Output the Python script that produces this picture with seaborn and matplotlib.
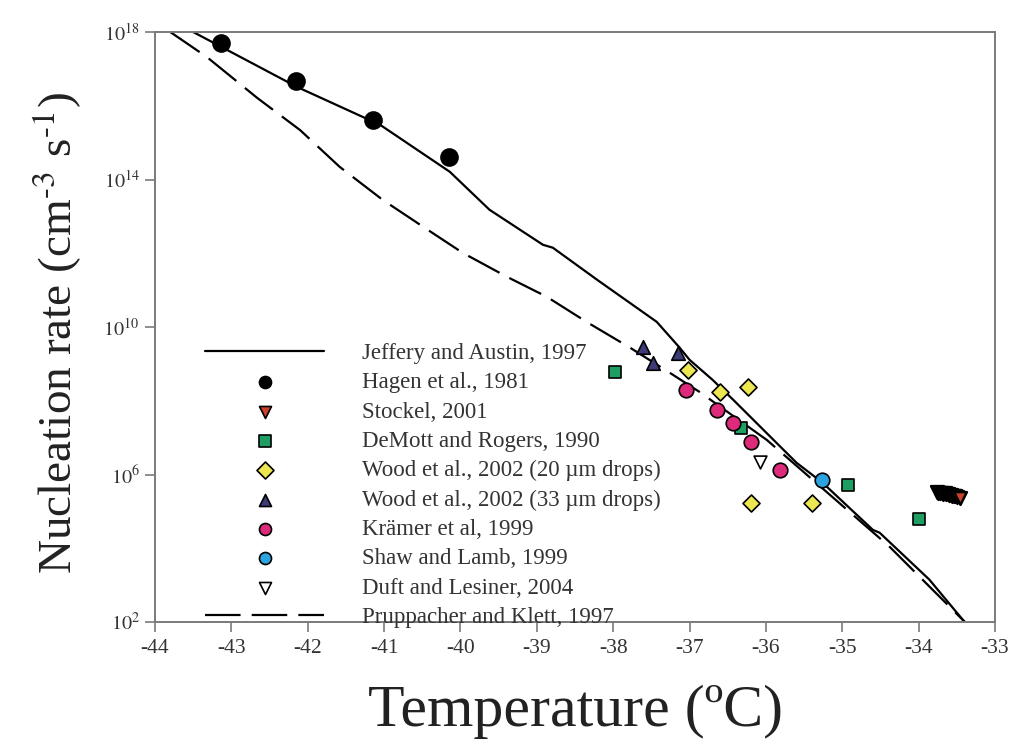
import numpy as np
import pandas as pd
import matplotlib
matplotlib.use("Agg")
import matplotlib.pyplot as plt
from matplotlib.ticker import NullLocator, FixedLocator
import seaborn as sns

# ---- Curves (temperature in degC, log10 of nucleation rate in cm^-3 s^-1) ----
jeffery_T = [-43.50, -42.14, -41.05, -40.14, -39.62, -38.92, -38.79, -38.21,
             -37.43, -37.13, -37.00, -36.70, -36.43, -35.60, -35.26, -34.60,
             -34.51, -33.86, -33.37]
jeffery_logJ = [18.00, 16.51, 15.48, 14.21, 13.18, 12.23, 12.15, 11.28,
                10.14, 9.44, 9.11, 8.57, 8.03, 6.32, 5.78, 4.50,
                4.42, 3.15, 1.93]

pruppacher_T = [-43.80, -43.32, -42.66, -42.10, -41.58, -41.02, -40.49, -39.97,
                -39.39, -38.87, -38.35, -37.78, -37.26, -36.87, -35.99, -35.69,
                -34.38, -33.36]
pruppacher_logJ = [18.00, 17.32, 16.21, 15.34, 14.34, 13.45, 12.72, 12.01,
                   11.36, 10.82, 10.14, 9.44, 8.76, 8.24, 6.94, 6.40,
                   4.04, 1.93]

# ---- Measurements ----
hagen_T = [-43.14, -42.15, -41.15, -40.15]
hagen_logJ = [17.70, 16.67, 15.62, 14.61]

stockel_T = [-33.76, -33.74, -33.72, -33.70, -33.68, -33.66, -33.64, -33.62,
             -33.60, -33.58, -33.56, -33.54, -33.52, -33.50, -33.46]
stockel_logJ = [5.52, 5.50, 5.51, 5.49, 5.48, 5.49, 5.47, 5.46,
                5.45, 5.44, 5.43, 5.42, 5.41, 5.40, 5.37]

demott_T = [-37.98, -36.32, -34.93, -33.99]
demott_logJ = [8.79, 7.27, 5.72, 4.78]

wood20_T = [-37.02, -36.60, -36.24, -36.19, -35.39]
wood20_logJ = [8.84, 8.24, 8.38, 5.24, 5.24]

wood33_T = [-37.61, -37.48, -37.15]
wood33_logJ = [9.46, 9.03, 9.30]

kramer_T = [-37.04, -36.64, -36.43, -36.19, -35.82]
kramer_logJ = [8.30, 7.76, 7.40, 6.89, 6.13]

shaw_T = [-35.27]
shaw_logJ = [5.86]

duft_T = [-36.08]
duft_logJ = [6.35]

x_ticks = list(range(-44, -32))
y_tick_exponents = [2, 6, 10, 14, 18]

sns.set_style("ticks")
plt.rcParams["font.family"] = ["Liberation Serif", "DejaVu Serif"]
plt.rcParams["mathtext.fontset"] = "stix"
plt.rcParams["axes.unicode_minus"] = False

W, H = 1013, 754
fig = plt.figure(figsize=(W / 100, H / 100), dpi=100)
ax = fig.add_axes([155 / W, 1 - 622 / H, (995 - 155) / W, (622 - 32) / H])


def frame(T, logJ):
    return pd.DataFrame({"T": T, "J": np.power(10.0, logJ)})


# model curves
sns.lineplot(data=frame(jeffery_T, jeffery_logJ), x="T", y="J", ax=ax,
             sort=False, estimator=None, color="black", lw=1.6,
             label="Jeffery and Austin, 1997", zorder=2)

edge = dict(edgecolor="black", linewidth=1.2, zorder=4)
sns.scatterplot(data=frame(hagen_T, hagen_logJ), x="T", y="J", ax=ax,
                marker="o", s=150, color="black", label="Hagen et al., 1981", **edge)
sns.scatterplot(data=frame(stockel_T, stockel_logJ), x="T", y="J", ax=ax,
                marker="v", s=85, color="#c9432c", label="Stockel, 2001",
                edgecolor="black", linewidth=1.8, zorder=4)
sns.scatterplot(data=frame(demott_T, demott_logJ), x="T", y="J", ax=ax,
                marker="s", s=85, color="#1f9e63", label="DeMott and Rogers, 1990", **edge)
sns.scatterplot(data=frame(wood20_T, wood20_logJ), x="T", y="J", ax=ax,
                marker="D", s=75, color="#ece650",
                label="Wood et al., 2002 (20 \u00b5m drops)", **edge)
sns.scatterplot(data=frame(wood33_T, wood33_logJ), x="T", y="J", ax=ax,
                marker="^", s=95, color="#3d3b78",
                label="Wood et al., 2002 (33 \u00b5m drops)", **edge)
sns.scatterplot(data=frame(kramer_T, kramer_logJ), x="T", y="J", ax=ax,
                marker="o", s=110, color="#dd2a7b", label="Kr\u00e4mer et al, 1999", **edge)
sns.scatterplot(data=frame(shaw_T, shaw_logJ), x="T", y="J", ax=ax,
                marker="o", s=110, color="#2ba3e0", label="Shaw and Lamb, 1999", **edge)
sns.scatterplot(data=frame(duft_T, duft_logJ), x="T", y="J", ax=ax,
                marker="v", s=85, color="white", label="Duft and Lesiner, 2004", **edge)

sns.lineplot(data=frame(pruppacher_T, pruppacher_logJ), x="T", y="J", ax=ax,
             sort=False, estimator=None, color="black", lw=1.6,
             label="Pruppacher and Klett, 1997", zorder=2)
ax.lines[-1].set_dashes((16, 5))

ax.set_yscale("log")
ax.set_xlim(-44, -33)
ax.set_ylim(1e2, 1e18)

ax.xaxis.set_major_locator(FixedLocator(x_ticks))
ax.set_xticklabels([str(t) for t in x_ticks])
ax.yaxis.set_major_locator(FixedLocator([10.0 ** e for e in y_tick_exponents]))
ax.set_yticklabels([rf"$10^{{{e}}}$" for e in y_tick_exponents])
ax.yaxis.set_minor_locator(NullLocator())
ax.xaxis.set_minor_locator(NullLocator())

spine_col = "#7a7a7a"
for sp in ax.spines.values():
    sp.set_color(spine_col)
    sp.set_linewidth(1.4)
ax.tick_params(axis="both", which="major", direction="out", length=7, width=1.2,
               color=spine_col, labelcolor="#333333")
ax.tick_params(axis="x", labelsize=15.5, pad=5)
ax.tick_params(axis="y", labelsize=14.5, pad=4)

ax.set_xlabel("Temperature (\u00baC)", fontsize=43, color="#222222")
ax.xaxis.set_label_coords(0.5, -0.1525)
ax.xaxis.label.set_verticalalignment("center")
ax.set_ylabel(r"Nucleation rate (cm$^{\text{-3}}$ s$^{\text{-1}}$)", fontsize=34,
              color="#222222")
ax.yaxis.set_label_coords(-0.117, 0.49)
ax.yaxis.label.set_verticalalignment("center")

leg = ax.legend(loc="upper left", bbox_to_anchor=(205 / W, 1 - 343 / H),
                bbox_transform=fig.transFigure, frameon=False, fontsize=16.5,
                handlelength=5.2, handletextpad=1.65, labelspacing=0.36,
                borderpad=0, borderaxespad=0, scatterpoints=1)
for h in leg.legend_handles:
    if hasattr(h, "set_sizes"):
        h.set_sizes([75])
        h.set_linewidth(1.2)
for t in leg.get_texts():
    t.set_color("#333333")

fig.savefig("out.png", dpi=100)
